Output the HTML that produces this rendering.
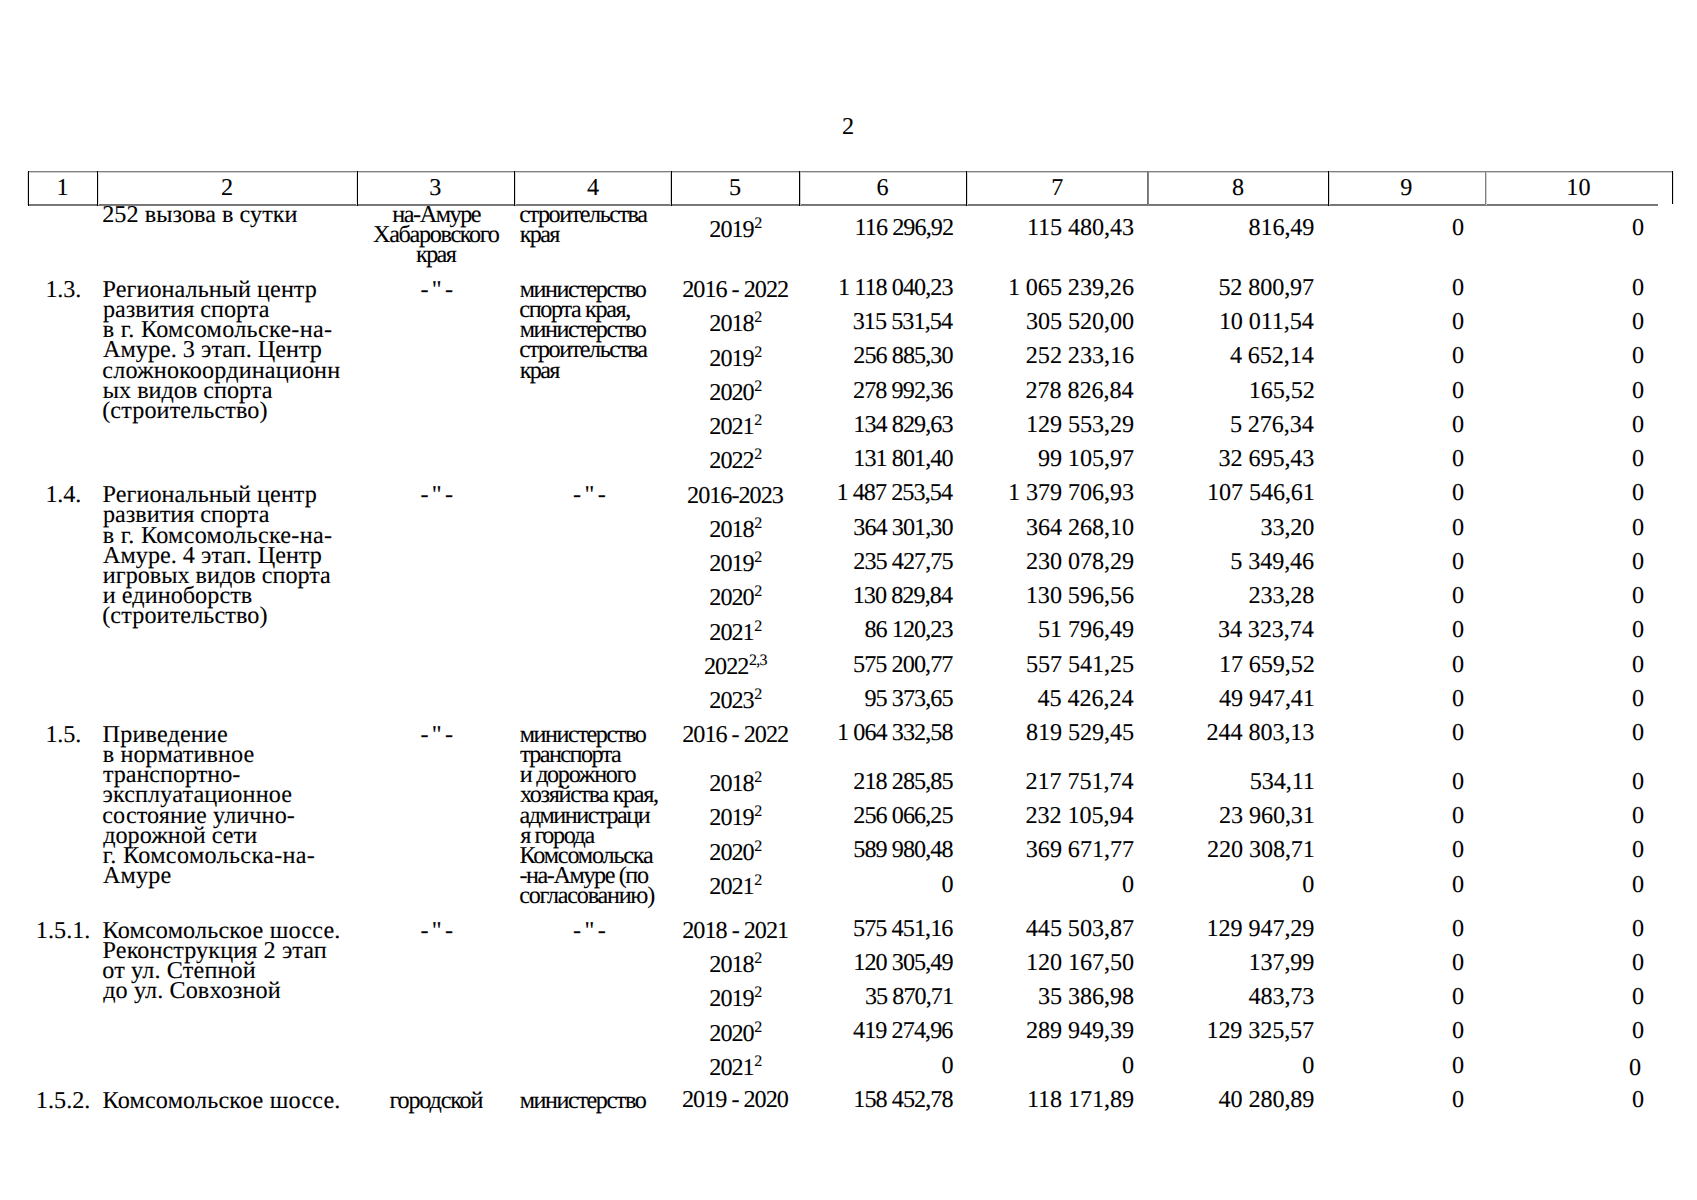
<!DOCTYPE html>
<html lang="ru"><head><meta charset="utf-8"><title>2</title><style>
html,body{margin:0;padding:0;background:#fff;}
body{width:1697px;height:1200px;position:relative;overflow:hidden;text-rendering:geometricPrecision;font-family:"Liberation Serif",serif;color:#000;}
.t{-webkit-text-stroke:0.1px #000;position:absolute;white-space:pre;font-size:24.19px;line-height:1;}
.s{font-size:16.0px;position:relative;top:-8.8px;line-height:0;letter-spacing:-0.7px;margin-left:0.5px;}
.ln{position:absolute;}
</style></head><body>
<div class="ln" style="left:28px;top:171px;width:1645px;height:1px;background:#808080"></div>
<div class="ln" style="left:28px;top:172px;width:1645px;height:1px;background:#cfcfcf"></div>
<div class="ln" style="left:28px;top:204px;width:1630px;height:1px;background:#747474"></div>
<div class="ln" style="left:28px;top:205px;width:1630px;height:1px;background:#7c7c7c"></div>
<div class="ln" style="left:27px;top:172px;width:1px;height:33px;background:#dcdcdc"></div>
<div class="ln" style="left:28px;top:171px;width:1px;height:35px;background:#000"></div>
<div class="ln" style="left:98px;top:172px;width:1px;height:33px;background:#e2e2e2"></div>
<div class="ln" style="left:97px;top:171px;width:1px;height:35px;background:#000"></div>
<div class="ln" style="left:356px;top:172px;width:1px;height:33px;background:#e6e6e6"></div>
<div class="ln" style="left:357px;top:171px;width:1px;height:35px;background:#000"></div>
<div class="ln" style="left:515px;top:172px;width:1px;height:33px;background:#d8d8d8"></div>
<div class="ln" style="left:514px;top:171px;width:1px;height:35px;background:#000"></div>
<div class="ln" style="left:670px;top:172px;width:1px;height:33px;background:#d0d0d0"></div>
<div class="ln" style="left:671px;top:171px;width:1px;height:35px;background:#000"></div>
<div class="ln" style="left:800px;top:172px;width:1px;height:33px;background:#c8c8c8"></div>
<div class="ln" style="left:799px;top:171px;width:1px;height:35px;background:#000"></div>
<div class="ln" style="left:967px;top:172px;width:1px;height:33px;background:#d8d8d8"></div>
<div class="ln" style="left:966px;top:171px;width:1px;height:35px;background:#000"></div>
<div class="ln" style="left:1329px;top:172px;width:1px;height:33px;background:#d8d8d8"></div>
<div class="ln" style="left:1328px;top:171px;width:1px;height:35px;background:#000"></div>
<div class="ln" style="left:1147px;top:171px;width:1px;height:35px;background:#727272"></div>
<div class="ln" style="left:1148px;top:171px;width:1px;height:35px;background:#858585"></div>
<div class="ln" style="left:1485px;top:171px;width:1px;height:35px;background:#808080"></div>
<div class="ln" style="left:1486px;top:172px;width:1px;height:33px;background:#d0d0d0"></div>
<div class="ln" style="left:1673px;top:172px;width:1px;height:32px;background:#e2e2e2"></div>
<div class="ln" style="left:1672px;top:171px;width:1px;height:33px;background:#000"></div>
<div class="t" style="left:841.90px;top:115.00px;">2</div>
<div class="t" style="left:56.50px;top:176.00px;">1</div>
<div class="t" style="left:220.90px;top:176.00px;">2</div>
<div class="t" style="left:429.35px;top:176.00px;">3</div>
<div class="t" style="left:586.90px;top:176.00px;">4</div>
<div class="t" style="left:729.00px;top:176.00px;">5</div>
<div class="t" style="left:876.50px;top:176.00px;">6</div>
<div class="t" style="left:1051.25px;top:176.00px;">7</div>
<div class="t" style="left:1231.95px;top:176.00px;">8</div>
<div class="t" style="left:1400.35px;top:176.00px;">9</div>
<div class="t" style="left:1566.30px;top:176.00px;">10</div>
<div class="t" style="left:45.40px;top:278.00px;letter-spacing:-0.15px;">1.3.</div>
<div class="t" style="left:45.40px;top:483.00px;letter-spacing:-0.15px;">1.4.</div>
<div class="t" style="left:45.40px;top:723.00px;letter-spacing:-0.15px;">1.5.</div>
<div class="t" style="left:35.80px;top:919.00px;letter-spacing:0.04px;">1.5.1.</div>
<div class="t" style="left:35.80px;top:1089.00px;letter-spacing:0.04px;">1.5.2.</div>
<div class="t" style="left:102.20px;top:203.00px;letter-spacing:0.04px;">252 вызова в сутки</div>
<div class="t" style="left:102.60px;top:278.00px;letter-spacing:0.04px;">Региональный центр</div>
<div class="t" style="left:102.90px;top:298.00px;">развития спорта</div>
<div class="t" style="left:102.80px;top:318.00px;letter-spacing:0.28px;">в г. Комсомольске-на-</div>
<div class="t" style="left:103.00px;top:338.00px;letter-spacing:0.01px;">Амуре. 3 этап. Центр</div>
<div class="t" style="left:102.30px;top:359.00px;letter-spacing:0.14px;">сложнокоординационн</div>
<div class="t" style="left:102.80px;top:379.00px;letter-spacing:-0.01px;">ых видов спорта</div>
<div class="t" style="left:102.20px;top:399.00px;letter-spacing:0.11px;">(строительство)</div>
<div class="t" style="left:102.60px;top:483.00px;letter-spacing:0.04px;">Региональный центр</div>
<div class="t" style="left:102.90px;top:503.00px;">развития спорта</div>
<div class="t" style="left:102.80px;top:524.00px;letter-spacing:0.28px;">в г. Комсомольске-на-</div>
<div class="t" style="left:103.00px;top:544.00px;letter-spacing:0.01px;">Амуре. 4 этап. Центр</div>
<div class="t" style="left:102.80px;top:564.00px;letter-spacing:-0.01px;">игровых видов спорта</div>
<div class="t" style="left:102.80px;top:584.00px;letter-spacing:0.04px;">и единоборств</div>
<div class="t" style="left:102.20px;top:604.00px;letter-spacing:0.11px;">(строительство)</div>
<div class="t" style="left:102.60px;top:723.00px;letter-spacing:0.13px;">Приведение</div>
<div class="t" style="left:102.80px;top:743.00px;letter-spacing:0.08px;">в нормативное</div>
<div class="t" style="left:102.90px;top:763.00px;letter-spacing:-0.04px;">транспортно-</div>
<div class="t" style="left:102.40px;top:783.00px;letter-spacing:0.12px;">эксплуатационное</div>
<div class="t" style="left:102.30px;top:804.00px;letter-spacing:0.09px;">состояние улично-</div>
<div class="t" style="left:103.20px;top:824.00px;letter-spacing:-0.01px;">дорожной сети</div>
<div class="t" style="left:102.80px;top:844.00px;letter-spacing:0.32px;">г. Комсомольска-на-</div>
<div class="t" style="left:103.00px;top:864.00px;letter-spacing:0.11px;">Амуре</div>
<div class="t" style="left:102.60px;top:919.00px;letter-spacing:0.16px;">Комсомольское шоссе.</div>
<div class="t" style="left:102.60px;top:939.00px;letter-spacing:0.09px;">Реконструкция 2 этап</div>
<div class="t" style="left:102.30px;top:959.00px;letter-spacing:0.14px;">от ул. Степной</div>
<div class="t" style="left:103.20px;top:979.00px;letter-spacing:0.09px;">до ул. Совхозной</div>
<div class="t" style="left:102.60px;top:1089.00px;letter-spacing:0.16px;">Комсомольское шоссе.</div>
<div class="t" style="left:392.30px;top:203.00px;letter-spacing:-1.46px;">на-Амуре</div>
<div class="t" style="left:373.10px;top:223.00px;letter-spacing:-1.34px;">Хабаровского</div>
<div class="t" style="left:416.10px;top:243.00px;letter-spacing:-1.66px;">края</div>
<div class="t" style="left:420.40px;top:278.00px;letter-spacing:-1.36px;">- " -</div>
<div class="t" style="left:420.40px;top:483.00px;letter-spacing:-1.36px;">- " -</div>
<div class="t" style="left:420.40px;top:723.00px;letter-spacing:-1.36px;">- " -</div>
<div class="t" style="left:420.40px;top:919.00px;letter-spacing:-1.36px;">- " -</div>
<div class="t" style="left:389.40px;top:1089.00px;letter-spacing:-1.18px;">городской</div>
<div class="t" style="left:519.30px;top:203.00px;letter-spacing:-1.47px;">строительства</div>
<div class="t" style="left:519.80px;top:223.00px;letter-spacing:-1.69px;">края</div>
<div class="t" style="left:519.70px;top:278.00px;letter-spacing:-1.43px;">министерство</div>
<div class="t" style="left:519.30px;top:298.00px;letter-spacing:-1.35px;">спорта края,</div>
<div class="t" style="left:519.70px;top:318.00px;letter-spacing:-1.43px;">министерство</div>
<div class="t" style="left:519.30px;top:338.00px;letter-spacing:-1.47px;">строительства</div>
<div class="t" style="left:519.80px;top:359.00px;letter-spacing:-1.69px;">края</div>
<div class="t" style="left:572.90px;top:483.00px;letter-spacing:-1.28px;">- " -</div>
<div class="t" style="left:572.90px;top:919.00px;letter-spacing:-1.28px;">- " -</div>
<div class="t" style="left:519.70px;top:723.00px;letter-spacing:-1.43px;">министерство</div>
<div class="t" style="left:519.90px;top:743.00px;letter-spacing:-1.54px;">транспорта</div>
<div class="t" style="left:519.80px;top:763.00px;letter-spacing:-1.33px;">и дорожного</div>
<div class="t" style="left:520.00px;top:783.00px;letter-spacing:-1.34px;">хозяйства края,</div>
<div class="t" style="left:519.40px;top:804.00px;letter-spacing:-1.47px;">администраци</div>
<div class="t" style="left:520.20px;top:824.00px;letter-spacing:-1.44px;">я города</div>
<div class="t" style="left:519.60px;top:844.00px;letter-spacing:-1.20px;">Комсомольска</div>
<div class="t" style="left:519.40px;top:864.00px;letter-spacing:-1.42px;">-на-Амуре (по</div>
<div class="t" style="left:519.30px;top:884.00px;letter-spacing:-1.26px;">согласованию)</div>
<div class="t" style="left:519.70px;top:1089.00px;letter-spacing:-1.43px;">министерство</div>
<div class="t" style="left:709.30px;top:218.00px;letter-spacing:-1.00px;">2019<span class="s">2</span></div>
<div class="t" style="left:854.59px;top:216.00px;letter-spacing:-0.95px;">116 296,92</div>
<div class="t" style="left:1026.96px;top:216.00px;letter-spacing:-0.08px;">115 480,43</div>
<div class="t" style="left:1248.47px;top:216.00px;letter-spacing:-0.12px;">816,49</div>
<div class="t" style="left:1452.10px;top:216.00px;">0</div>
<div class="t" style="left:1632.10px;top:216.00px;">0</div>
<div class="t" style="left:682.19px;top:278.00px;letter-spacing:-1.00px;">2016 - 2022</div>
<div class="t" style="left:837.95px;top:276.00px;letter-spacing:-0.95px;">1 118 040,23</div>
<div class="t" style="left:1007.88px;top:276.00px;letter-spacing:-0.08px;">1 065 239,26</div>
<div class="t" style="left:1218.40px;top:276.00px;letter-spacing:-0.12px;">52 800,97</div>
<div class="t" style="left:1452.10px;top:276.00px;">0</div>
<div class="t" style="left:1632.10px;top:276.00px;">0</div>
<div class="t" style="left:709.30px;top:312.00px;letter-spacing:-1.00px;">2018<span class="s">2</span></div>
<div class="t" style="left:852.69px;top:310.00px;letter-spacing:-0.95px;">315 531,54</div>
<div class="t" style="left:1026.06px;top:310.00px;letter-spacing:-0.08px;">305 520,00</div>
<div class="t" style="left:1218.90px;top:310.00px;letter-spacing:-0.12px;">10 011,54</div>
<div class="t" style="left:1452.10px;top:310.00px;">0</div>
<div class="t" style="left:1632.10px;top:310.00px;">0</div>
<div class="t" style="left:709.30px;top:347.00px;letter-spacing:-1.00px;">2019<span class="s">2</span></div>
<div class="t" style="left:853.29px;top:344.00px;letter-spacing:-0.95px;">256 885,30</div>
<div class="t" style="left:1025.86px;top:344.00px;letter-spacing:-0.08px;">252 233,16</div>
<div class="t" style="left:1229.97px;top:344.00px;letter-spacing:-0.12px;">4 652,14</div>
<div class="t" style="left:1452.10px;top:344.00px;">0</div>
<div class="t" style="left:1632.10px;top:344.00px;">0</div>
<div class="t" style="left:709.30px;top:381.00px;letter-spacing:-1.00px;">2020<span class="s">2</span></div>
<div class="t" style="left:853.09px;top:379.00px;letter-spacing:-0.95px;">278 992,36</div>
<div class="t" style="left:1025.46px;top:379.00px;letter-spacing:-0.08px;">278 826,84</div>
<div class="t" style="left:1248.87px;top:379.00px;letter-spacing:-0.12px;">165,52</div>
<div class="t" style="left:1452.10px;top:379.00px;">0</div>
<div class="t" style="left:1632.10px;top:379.00px;">0</div>
<div class="t" style="left:709.30px;top:415.00px;letter-spacing:-1.00px;">2021<span class="s">2</span></div>
<div class="t" style="left:853.29px;top:413.00px;letter-spacing:-0.95px;">134 829,63</div>
<div class="t" style="left:1026.06px;top:413.00px;letter-spacing:-0.08px;">129 553,29</div>
<div class="t" style="left:1229.97px;top:413.00px;letter-spacing:-0.12px;">5 276,34</div>
<div class="t" style="left:1452.10px;top:413.00px;">0</div>
<div class="t" style="left:1632.10px;top:413.00px;">0</div>
<div class="t" style="left:709.30px;top:449.00px;letter-spacing:-1.00px;">2022<span class="s">2</span></div>
<div class="t" style="left:853.29px;top:447.00px;letter-spacing:-0.95px;">131 801,40</div>
<div class="t" style="left:1037.88px;top:447.00px;letter-spacing:-0.08px;">99 105,97</div>
<div class="t" style="left:1218.60px;top:447.00px;letter-spacing:-0.12px;">32 695,43</div>
<div class="t" style="left:1452.10px;top:447.00px;">0</div>
<div class="t" style="left:1632.10px;top:447.00px;">0</div>
<div class="t" style="left:687.04px;top:484.00px;letter-spacing:-1.00px;">2016-2023</div>
<div class="t" style="left:836.45px;top:481.00px;letter-spacing:-0.95px;">1 487 253,54</div>
<div class="t" style="left:1008.08px;top:481.00px;letter-spacing:-0.08px;">1 379 706,93</div>
<div class="t" style="left:1207.12px;top:481.00px;letter-spacing:-0.12px;">107 546,61</div>
<div class="t" style="left:1452.10px;top:481.00px;">0</div>
<div class="t" style="left:1632.10px;top:481.00px;">0</div>
<div class="t" style="left:709.30px;top:518.00px;letter-spacing:-1.00px;">2018<span class="s">2</span></div>
<div class="t" style="left:853.29px;top:516.00px;letter-spacing:-0.95px;">364 301,30</div>
<div class="t" style="left:1026.06px;top:516.00px;letter-spacing:-0.08px;">364 268,10</div>
<div class="t" style="left:1260.45px;top:516.00px;letter-spacing:-0.12px;">33,20</div>
<div class="t" style="left:1452.10px;top:516.00px;">0</div>
<div class="t" style="left:1632.10px;top:516.00px;">0</div>
<div class="t" style="left:709.30px;top:552.00px;letter-spacing:-1.00px;">2019<span class="s">2</span></div>
<div class="t" style="left:853.29px;top:550.00px;letter-spacing:-0.95px;">235 427,75</div>
<div class="t" style="left:1026.06px;top:550.00px;letter-spacing:-0.08px;">230 078,29</div>
<div class="t" style="left:1230.37px;top:550.00px;letter-spacing:-0.12px;">5 349,46</div>
<div class="t" style="left:1452.10px;top:550.00px;">0</div>
<div class="t" style="left:1632.10px;top:550.00px;">0</div>
<div class="t" style="left:709.30px;top:586.00px;letter-spacing:-1.00px;">2020<span class="s">2</span></div>
<div class="t" style="left:852.69px;top:584.00px;letter-spacing:-0.95px;">130 829,84</div>
<div class="t" style="left:1025.86px;top:584.00px;letter-spacing:-0.08px;">130 596,56</div>
<div class="t" style="left:1248.47px;top:584.00px;letter-spacing:-0.12px;">233,28</div>
<div class="t" style="left:1452.10px;top:584.00px;">0</div>
<div class="t" style="left:1632.10px;top:584.00px;">0</div>
<div class="t" style="left:709.30px;top:621.00px;letter-spacing:-1.00px;">2021<span class="s">2</span></div>
<div class="t" style="left:864.44px;top:618.00px;letter-spacing:-0.95px;">86 120,23</div>
<div class="t" style="left:1038.08px;top:618.00px;letter-spacing:-0.08px;">51 796,49</div>
<div class="t" style="left:1218.00px;top:618.00px;letter-spacing:-0.12px;">34 323,74</div>
<div class="t" style="left:1452.10px;top:618.00px;">0</div>
<div class="t" style="left:1632.10px;top:618.00px;">0</div>
<div class="t" style="left:704.00px;top:655.00px;letter-spacing:-1.00px;">2022<span class="s">2,3</span></div>
<div class="t" style="left:853.09px;top:653.00px;letter-spacing:-0.95px;">575 200,77</div>
<div class="t" style="left:1026.06px;top:653.00px;letter-spacing:-0.08px;">557 541,25</div>
<div class="t" style="left:1219.00px;top:653.00px;letter-spacing:-0.12px;">17 659,52</div>
<div class="t" style="left:1452.10px;top:653.00px;">0</div>
<div class="t" style="left:1632.10px;top:653.00px;">0</div>
<div class="t" style="left:709.30px;top:689.00px;letter-spacing:-1.00px;">2023<span class="s">2</span></div>
<div class="t" style="left:864.44px;top:687.00px;letter-spacing:-0.95px;">95 373,65</div>
<div class="t" style="left:1037.48px;top:687.00px;letter-spacing:-0.08px;">45 426,24</div>
<div class="t" style="left:1219.10px;top:687.00px;letter-spacing:-0.12px;">49 947,41</div>
<div class="t" style="left:1452.10px;top:687.00px;">0</div>
<div class="t" style="left:1632.10px;top:687.00px;">0</div>
<div class="t" style="left:682.19px;top:723.00px;letter-spacing:-1.00px;">2016 - 2022</div>
<div class="t" style="left:837.05px;top:721.00px;letter-spacing:-0.95px;">1 064 332,58</div>
<div class="t" style="left:1026.06px;top:721.00px;letter-spacing:-0.08px;">819 529,45</div>
<div class="t" style="left:1206.62px;top:721.00px;letter-spacing:-0.12px;">244 803,13</div>
<div class="t" style="left:1452.10px;top:721.00px;">0</div>
<div class="t" style="left:1632.10px;top:721.00px;">0</div>
<div class="t" style="left:709.30px;top:772.00px;letter-spacing:-1.00px;">2018<span class="s">2</span></div>
<div class="t" style="left:853.29px;top:770.00px;letter-spacing:-0.95px;">218 285,85</div>
<div class="t" style="left:1025.46px;top:770.00px;letter-spacing:-0.08px;">217 751,74</div>
<div class="t" style="left:1249.87px;top:770.00px;letter-spacing:-0.12px;">534,11</div>
<div class="t" style="left:1452.10px;top:770.00px;">0</div>
<div class="t" style="left:1632.10px;top:770.00px;">0</div>
<div class="t" style="left:709.30px;top:806.00px;letter-spacing:-1.00px;">2019<span class="s">2</span></div>
<div class="t" style="left:853.29px;top:804.00px;letter-spacing:-0.95px;">256 066,25</div>
<div class="t" style="left:1025.46px;top:804.00px;letter-spacing:-0.08px;">232 105,94</div>
<div class="t" style="left:1219.10px;top:804.00px;letter-spacing:-0.12px;">23 960,31</div>
<div class="t" style="left:1452.10px;top:804.00px;">0</div>
<div class="t" style="left:1632.10px;top:804.00px;">0</div>
<div class="t" style="left:709.30px;top:841.00px;letter-spacing:-1.00px;">2020<span class="s">2</span></div>
<div class="t" style="left:853.29px;top:838.00px;letter-spacing:-0.95px;">589 980,48</div>
<div class="t" style="left:1025.86px;top:838.00px;letter-spacing:-0.08px;">369 671,77</div>
<div class="t" style="left:1207.12px;top:838.00px;letter-spacing:-0.12px;">220 308,71</div>
<div class="t" style="left:1452.10px;top:838.00px;">0</div>
<div class="t" style="left:1632.10px;top:838.00px;">0</div>
<div class="t" style="left:709.30px;top:875.00px;letter-spacing:-1.00px;">2021<span class="s">2</span></div>
<div class="t" style="left:941.50px;top:873.00px;letter-spacing:-0.95px;">0</div>
<div class="t" style="left:1122.10px;top:873.00px;letter-spacing:-0.08px;">0</div>
<div class="t" style="left:1302.30px;top:873.00px;letter-spacing:-0.12px;">0</div>
<div class="t" style="left:1452.10px;top:873.00px;">0</div>
<div class="t" style="left:1632.10px;top:873.00px;">0</div>
<div class="t" style="left:682.24px;top:919.00px;letter-spacing:-1.00px;">2018 - 2021</div>
<div class="t" style="left:853.09px;top:917.00px;letter-spacing:-0.95px;">575 451,16</div>
<div class="t" style="left:1025.86px;top:917.00px;letter-spacing:-0.08px;">445 503,87</div>
<div class="t" style="left:1206.62px;top:917.00px;letter-spacing:-0.12px;">129 947,29</div>
<div class="t" style="left:1452.10px;top:917.00px;">0</div>
<div class="t" style="left:1632.10px;top:917.00px;">0</div>
<div class="t" style="left:709.30px;top:953.00px;letter-spacing:-1.00px;">2018<span class="s">2</span></div>
<div class="t" style="left:853.29px;top:951.00px;letter-spacing:-0.95px;">120 305,49</div>
<div class="t" style="left:1026.06px;top:951.00px;letter-spacing:-0.08px;">120 167,50</div>
<div class="t" style="left:1248.47px;top:951.00px;letter-spacing:-0.12px;">137,99</div>
<div class="t" style="left:1452.10px;top:951.00px;">0</div>
<div class="t" style="left:1632.10px;top:951.00px;">0</div>
<div class="t" style="left:709.30px;top:987.00px;letter-spacing:-1.00px;">2019<span class="s">2</span></div>
<div class="t" style="left:864.94px;top:985.00px;letter-spacing:-0.95px;">35 870,71</div>
<div class="t" style="left:1038.08px;top:985.00px;letter-spacing:-0.08px;">35 386,98</div>
<div class="t" style="left:1248.47px;top:985.00px;letter-spacing:-0.12px;">483,73</div>
<div class="t" style="left:1452.10px;top:985.00px;">0</div>
<div class="t" style="left:1632.10px;top:985.00px;">0</div>
<div class="t" style="left:709.30px;top:1022.00px;letter-spacing:-1.00px;">2020<span class="s">2</span></div>
<div class="t" style="left:853.09px;top:1019.00px;letter-spacing:-0.95px;">419 274,96</div>
<div class="t" style="left:1026.06px;top:1019.00px;letter-spacing:-0.08px;">289 949,39</div>
<div class="t" style="left:1206.42px;top:1019.00px;letter-spacing:-0.12px;">129 325,57</div>
<div class="t" style="left:1452.10px;top:1019.00px;">0</div>
<div class="t" style="left:1632.10px;top:1019.00px;">0</div>
<div class="t" style="left:709.30px;top:1056.00px;letter-spacing:-1.00px;">2021<span class="s">2</span></div>
<div class="t" style="left:941.50px;top:1054.00px;letter-spacing:-0.95px;">0</div>
<div class="t" style="left:1122.10px;top:1054.00px;letter-spacing:-0.08px;">0</div>
<div class="t" style="left:1302.30px;top:1054.00px;letter-spacing:-0.12px;">0</div>
<div class="t" style="left:1452.10px;top:1054.00px;">0</div>
<div class="t" style="left:1629.10px;top:1056.00px;">0</div>
<div class="t" style="left:681.99px;top:1088.00px;letter-spacing:-1.00px;">2019 - 2020</div>
<div class="t" style="left:853.29px;top:1088.00px;letter-spacing:-0.95px;">158 452,78</div>
<div class="t" style="left:1026.96px;top:1088.00px;letter-spacing:-0.08px;">118 171,89</div>
<div class="t" style="left:1218.60px;top:1088.00px;letter-spacing:-0.12px;">40 280,89</div>
<div class="t" style="left:1452.10px;top:1088.00px;">0</div>
<div class="t" style="left:1632.10px;top:1088.00px;">0</div>
</body></html>
